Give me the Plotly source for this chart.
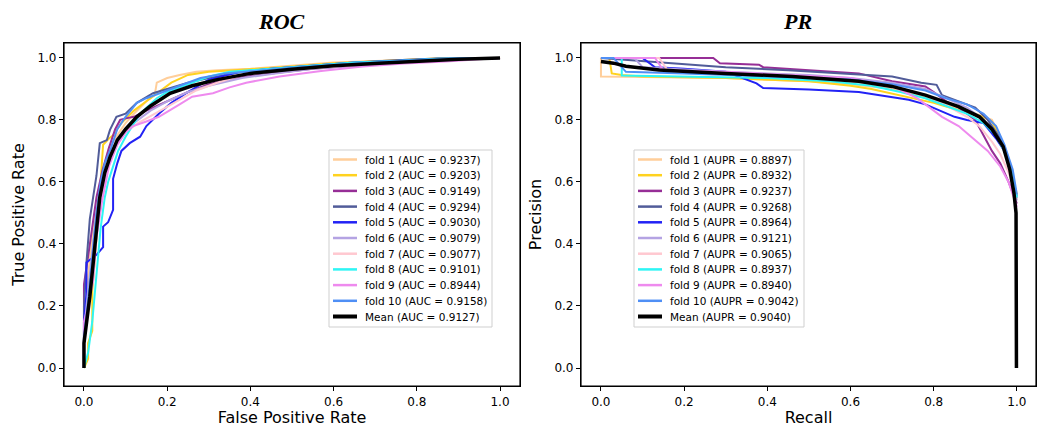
import plotly.graph_objects as go

fold_names = [f"fold {i}" for i in range(1, 11)]
roc_auc = ["0.9237", "0.9203", "0.9149", "0.9294", "0.9030", "0.9079", "0.9077", "0.9101", "0.8944", "0.9158"]
pr_auc = ["0.8897", "0.8932", "0.9237", "0.9268", "0.8964", "0.9121", "0.9065", "0.8937", "0.8940", "0.9042"]
mean_roc_auc = "0.9127"
mean_pr_auc = "0.9040"

colors = ["#FFCE9A", "#FFD21F", "#962E96", "#515C99", "#2222F5", "#B4A3E3",
          "#FFC8D0", "#2EF5F5", "#EE8AEE", "#4F8FF5"]

# ---- ROC data (FPR, TPR) per fold ----
roc_x = [
    [0, 0, 0.01, 0.01, 0.02, 0.03, 0.04, 0.05, 0.06, 0.08, 0.10, 0.12, 0.15, 0.17, 0.175, 0.2, 0.23, 0.27, 0.32, 0.4, 0.5, 0.6, 0.7, 0.8, 0.9, 1.0],
    [0, 0.01, 0.01, 0.02, 0.02, 0.03, 0.035, 0.04, 0.046, 0.06, 0.07, 0.09, 0.12, 0.15, 0.18, 0.21, 0.25, 0.3, 0.38, 0.5, 0.6, 0.7, 0.8, 0.87, 1.0],
    [0, 0, 0.01, 0.02, 0.03, 0.045, 0.06, 0.075, 0.087, 0.1, 0.12, 0.15, 0.2, 0.25, 0.3, 0.36, 0.45, 0.55, 0.65, 0.75, 0.85, 0.95, 1.0],
    [0, 0, 0.006, 0.014, 0.022, 0.03, 0.038, 0.055, 0.0625, 0.078, 0.1, 0.127, 0.166, 0.2, 0.25, 0.3, 0.38, 0.45, 0.55, 0.65, 0.75, 0.85, 1.0],
    [0, 0, 0.006, 0.006, 0.03, 0.046, 0.046, 0.058, 0.07, 0.07, 0.08, 0.09, 0.11, 0.135, 0.15, 0.18, 0.21, 0.25, 0.3, 0.375, 0.45, 0.55, 0.65, 0.75, 0.85, 1.0],
    [0, 0, 0.01, 0.02, 0.03, 0.045, 0.06, 0.08, 0.1, 0.13, 0.16, 0.2, 0.25, 0.3, 0.38, 0.46, 0.55, 0.65, 0.75, 0.85, 0.95, 1.0],
    [0, 0, 0.01, 0.02, 0.03, 0.045, 0.06, 0.08, 0.1, 0.13, 0.17, 0.22, 0.27, 0.32, 0.38, 0.45, 0.55, 0.65, 0.75, 0.85, 0.95, 1.0],
    [0, 0.01, 0.02, 0.03, 0.04, 0.05, 0.058, 0.07, 0.082, 0.1, 0.12, 0.135, 0.175, 0.2, 0.25, 0.3, 0.35, 0.45, 0.55, 0.65, 0.75, 0.85, 1.0],
    [0, 0, 0.01, 0.022, 0.03, 0.045, 0.06, 0.08, 0.1, 0.118, 0.15, 0.18, 0.23, 0.26, 0.31, 0.35, 0.39, 0.47, 0.57, 0.67, 0.77, 0.87, 0.95, 1.0],
    [0, 0, 0.01, 0.02, 0.03, 0.04, 0.05, 0.065, 0.08, 0.1, 0.127, 0.15, 0.19, 0.23, 0.28, 0.34, 0.42, 0.5, 0.6, 0.7, 0.8, 0.9, 1.0],
]
roc_y = [
    [0, 0.1, 0.2, 0.3, 0.42, 0.52, 0.6, 0.66, 0.71, 0.75, 0.79, 0.82, 0.86, 0.88, 0.92, 0.935, 0.945, 0.955, 0.96, 0.965, 0.975, 0.985, 0.99, 0.995, 1.0, 1.0],
    [0, 0.03, 0.08, 0.12, 0.25, 0.4, 0.5, 0.6, 0.72, 0.74, 0.75, 0.79, 0.83, 0.86, 0.89, 0.92, 0.945, 0.955, 0.962, 0.972, 0.983, 0.99, 0.996, 1.0, 1.0],
    [0, 0.27, 0.36, 0.45, 0.55, 0.64, 0.71, 0.77, 0.8, 0.805, 0.81, 0.83, 0.86, 0.89, 0.915, 0.935, 0.95, 0.965, 0.975, 0.985, 0.993, 0.998, 1.0],
    [0, 0.2, 0.34, 0.48, 0.55, 0.62, 0.725, 0.735, 0.768, 0.81, 0.82, 0.855, 0.886, 0.9, 0.92, 0.935, 0.955, 0.965, 0.975, 0.985, 0.992, 0.998, 1.0],
    [0, 0.15, 0.24, 0.34, 0.365, 0.39, 0.456, 0.47, 0.51, 0.61, 0.66, 0.70, 0.725, 0.746, 0.78, 0.82, 0.855, 0.89, 0.93, 0.955, 0.965, 0.975, 0.985, 0.99, 0.997, 1.0],
    [0, 0.12, 0.25, 0.38, 0.5, 0.6, 0.67, 0.73, 0.77, 0.8, 0.83, 0.86, 0.89, 0.91, 0.935, 0.95, 0.965, 0.975, 0.985, 0.992, 0.998, 1.0],
    [0, 0.1, 0.22, 0.36, 0.48, 0.58, 0.66, 0.72, 0.76, 0.79, 0.82, 0.86, 0.895, 0.92, 0.945, 0.958, 0.968, 0.978, 0.986, 0.993, 0.998, 1.0],
    [0, 0.05, 0.15, 0.3, 0.45, 0.55, 0.6, 0.65, 0.70, 0.746, 0.79, 0.82, 0.87, 0.89, 0.915, 0.94, 0.955, 0.965, 0.975, 0.985, 0.99, 0.997, 1.0],
    [0, 0.15, 0.2, 0.28, 0.42, 0.55, 0.65, 0.72, 0.76, 0.78, 0.795, 0.81, 0.85, 0.875, 0.886, 0.905, 0.92, 0.94, 0.958, 0.972, 0.982, 0.988, 0.996, 1.0],
    [0, 0.1, 0.22, 0.36, 0.5, 0.6, 0.66, 0.71, 0.77, 0.81, 0.855, 0.87, 0.89, 0.91, 0.935, 0.95, 0.96, 0.968, 0.978, 0.986, 0.993, 0.998, 1.0],
]
mean_roc_x = [0, 0, 0.014, 0.026, 0.038, 0.05, 0.0625, 0.08, 0.1, 0.127, 0.16, 0.207, 0.26, 0.32, 0.4, 0.5, 0.6, 0.71, 0.8, 0.9, 1.0]
mean_roc_y = [0, 0.08, 0.23, 0.39, 0.55, 0.63, 0.68, 0.735, 0.77, 0.81, 0.845, 0.886, 0.91, 0.93, 0.95, 0.963, 0.975, 0.983, 0.99, 0.996, 1.0]

# ---- PR data (Recall, Precision) per fold ----
pr_x = [
    [0, 0, 0.1, 0.3, 0.5, 0.6, 0.7, 0.75, 0.8, 0.85, 0.9, 0.94, 0.96, 0.983, 1.0],
    [0, 0.02, 0.026, 0.05, 0.1, 0.3, 0.5, 0.6, 0.65, 0.7, 0.75, 0.8, 0.85, 0.918, 0.94, 0.96, 0.98, 1.0],
    [0, 0.27, 0.286, 0.38, 0.39, 0.5, 0.62, 0.7, 0.78, 0.8, 0.83, 0.86, 0.9, 0.92, 0.94, 0.96, 0.98, 1.0],
    [0, 0.1, 0.3, 0.45, 0.58, 0.7, 0.77, 0.807, 0.82, 0.86, 0.9, 0.93, 0.96, 0.98, 1.0],
    [0, 0.1, 0.13, 0.2, 0.3, 0.374, 0.39, 0.5, 0.62, 0.74, 0.78, 0.85, 0.88, 0.92, 0.95, 0.97, 0.99, 1.0],
    [0, 0.08, 0.1, 0.2, 0.3, 0.4, 0.5, 0.6, 0.7, 0.78, 0.83, 0.88, 0.92, 0.95, 0.97, 0.99, 1.0],
    [0, 0.14, 0.16, 0.3, 0.45, 0.6, 0.7, 0.78, 0.84, 0.88, 0.91, 0.94, 0.96, 0.98, 1.0],
    [0, 0.05, 0.05, 0.2, 0.4, 0.55, 0.65, 0.72, 0.78, 0.84, 0.88, 0.92, 0.95, 0.97, 0.99, 1.0],
    [0, 0.13, 0.15, 0.3, 0.45, 0.6, 0.7, 0.76, 0.82, 0.86, 0.89, 0.93, 0.96, 0.98, 1.0],
    [0, 0.03, 0.06, 0.2, 0.4, 0.6, 0.7, 0.78, 0.83, 0.88, 0.92, 0.95, 0.97, 0.99, 1.0],
]
pr_y = [
    [1.0, 0.94, 0.938, 0.935, 0.925, 0.915, 0.9, 0.885, 0.86, 0.84, 0.82, 0.80, 0.746, 0.66, 0.55],
    [1.0, 1.0, 0.95, 0.945, 0.94, 0.935, 0.925, 0.91, 0.9, 0.885, 0.87, 0.855, 0.835, 0.81, 0.795, 0.74, 0.66, 0.56],
    [1.0, 1.0, 0.983, 0.978, 0.97, 0.96, 0.95, 0.925, 0.908, 0.89, 0.86, 0.84, 0.80, 0.75, 0.70, 0.66, 0.6, 0.53],
    [1.0, 0.99, 0.97, 0.96, 0.95, 0.94, 0.92, 0.913, 0.88, 0.86, 0.84, 0.80, 0.74, 0.66, 0.55],
    [1.0, 1.0, 0.97, 0.965, 0.955, 0.918, 0.903, 0.898, 0.89, 0.865, 0.85, 0.81, 0.80, 0.79, 0.74, 0.70, 0.62, 0.55],
    [1.0, 1.0, 0.97, 0.962, 0.955, 0.95, 0.945, 0.935, 0.92, 0.9, 0.87, 0.84, 0.80, 0.75, 0.7, 0.62, 0.54],
    [1.0, 1.0, 0.96, 0.95, 0.94, 0.925, 0.905, 0.88, 0.84, 0.81, 0.78, 0.73, 0.69, 0.63, 0.55],
    [1.0, 1.0, 0.943, 0.94, 0.935, 0.925, 0.91, 0.89, 0.87, 0.84, 0.82, 0.79, 0.75, 0.7, 0.62, 0.55],
    [1.0, 1.0, 0.96, 0.955, 0.945, 0.935, 0.91, 0.87, 0.81, 0.78, 0.746, 0.70, 0.65, 0.6, 0.52],
    [1.0, 1.0, 0.955, 0.95, 0.94, 0.93, 0.915, 0.895, 0.87, 0.85, 0.82, 0.78, 0.72, 0.64, 0.56],
]
mean_pr_x = [0, 0.03, 0.06, 0.14, 0.3, 0.46, 0.62, 0.7, 0.78, 0.86, 0.91, 0.94, 0.967, 0.983, 0.993, 0.998, 0.999]
mean_pr_y = [0.988, 0.983, 0.973, 0.961, 0.95, 0.94, 0.925, 0.908, 0.88, 0.843, 0.81, 0.77, 0.714, 0.64, 0.564, 0.5, 0.0]

roc_labels = [f"{fold_names[i]} (AUC = {roc_auc[i]})" for i in range(10)] + [f"Mean (AUC = {mean_roc_auc})"]
pr_labels = [f"{fold_names[i]} (AUPR = {pr_auc[i]})" for i in range(10)] + [f"Mean (AUPR = {mean_pr_auc})"]
line_colors = colors + ["black"]
line_widths = [2] * 10 + [3.5]

fig = go.Figure()
for i in range(10):
    fig.add_trace(go.Scatter(x=roc_x[i], y=roc_y[i], mode="lines",
                             line=dict(color=colors[i], width=2),
                             name=roc_labels[i], xaxis="x", yaxis="y"))
fig.add_trace(go.Scatter(x=mean_roc_x, y=mean_roc_y, mode="lines",
                         line=dict(color="black", width=3.5),
                         name=roc_labels[10], xaxis="x", yaxis="y"))
for i in range(10):
    fig.add_trace(go.Scatter(x=pr_x[i], y=pr_y[i], mode="lines",
                             line=dict(color=colors[i], width=2),
                             name=pr_labels[i], xaxis="x2", yaxis="y2"))
fig.add_trace(go.Scatter(x=mean_pr_x, y=mean_pr_y, mode="lines",
                         line=dict(color="black", width=3.5),
                         name=pr_labels[10], xaxis="x2", yaxis="y2"))

ticks = [0.0, 0.2, 0.4, 0.6, 0.8, 1.0]
tick_text = ["0.0", "0.2", "0.4", "0.6", "0.8", "1.0"]
axis_common = dict(showline=True, linecolor="black", linewidth=1.2, mirror=True,
                   ticks="outside", ticklen=4, tickcolor="black", tickwidth=1,
                   showgrid=False, zeroline=False, tickvals=ticks, ticktext=tick_text,
                   automargin=False,
                   tickfont=dict(family="DejaVu Sans", size=12, color="black"))
title_font = dict(family="DejaVu Sans", size=16, color="black")

L, R, T, B = 64, 9, 43, 41
W, H = 1045, 427
pw = W - L - R
ph = H - T - B

def px_x(p):
    return (p - L) / pw

def px_y(p):
    return (H - B - p) / ph

shapes = []
annotations = []
# frames around each plotting area
for xr, yr in (("x domain", "y domain"), ("x2 domain", "y2 domain")):
    shapes.append(dict(type="rect", xref=xr, yref=yr, x0=0, x1=1, y0=0, y1=1,
                       line=dict(color="black", width=1.2), fillcolor="rgba(0,0,0,0)", layer="above"))

# legends (matplotlib-style boxes)
def add_legend(labels, box_left, box_right, box_top, box_bottom):
    shapes.append(dict(type="rect", xref="paper", yref="paper",
                       x0=px_x(box_left), x1=px_x(box_right), y0=px_y(box_bottom), y1=px_y(box_top),
                       line=dict(color="#CFCFCF", width=1), fillcolor="rgba(255,255,255,0.85)", layer="above"))
    first, step = box_top + 9.5, 15.7
    for k, lab in enumerate(labels):
        yc = first + k * step
        shapes.append(dict(type="line", xref="paper", yref="paper",
                           x0=px_x(box_left + 4), x1=px_x(box_left + 28), y0=px_y(yc), y1=px_y(yc),
                           line=dict(color=line_colors[k], width=line_widths[k] + 0.5), layer="above"))
        annotations.append(dict(text=lab, xref="paper", yref="paper", x=px_x(box_left + 34), y=px_y(yc),
                                xanchor="left", yanchor="middle", showarrow=False,
                                font=dict(family="DejaVu Sans", size=10.5, color="black")))

add_legend(roc_labels, 329, 492, 150, 327)
add_legend(pr_labels, 634, 804, 150, 327)

annotations.append(dict(text="<b><i>ROC</i></b>", x=px_x(281), y=px_y(21), xref="paper", yref="paper",
                        xanchor="center", yanchor="middle", showarrow=False,
                        font=dict(family="Liberation Serif", size=22, color="black")))
annotations.append(dict(text="<b><i>PR</i></b>", x=px_x(797), y=px_y(21), xref="paper", yref="paper",
                        xanchor="center", yanchor="middle", showarrow=False,
                        font=dict(family="Liberation Serif", size=22, color="black")))

fig.update_layout(
    template="none",
    width=W, height=H,
    margin=dict(l=L, r=R, t=T, b=B),
    plot_bgcolor="white", paper_bgcolor="white",
    showlegend=False,
    xaxis=dict(domain=[0, px_x(520)], range=[-0.048, 1.048], anchor="y",
               title=dict(text="False Positive Rate", font=title_font, standoff=6), **axis_common),
    yaxis=dict(domain=[0, 1], range=[-0.058, 1.048], anchor="x",
               title=dict(text="True Positive Rate", font=title_font, standoff=8), **axis_common),
    xaxis2=dict(domain=[px_x(581), 1], range=[-0.048, 1.046], anchor="y2",
                title=dict(text="Recall", font=title_font, standoff=6), **axis_common),
    yaxis2=dict(domain=[0, 1], range=[-0.058, 1.048], anchor="x2",
                title=dict(text="Precision", font=title_font, standoff=8), **axis_common),
    shapes=shapes,
    annotations=annotations,
)

fig.write_html("out.html", config={"displayModeBar": False},
               post_script="document.body.style.margin='0';")
